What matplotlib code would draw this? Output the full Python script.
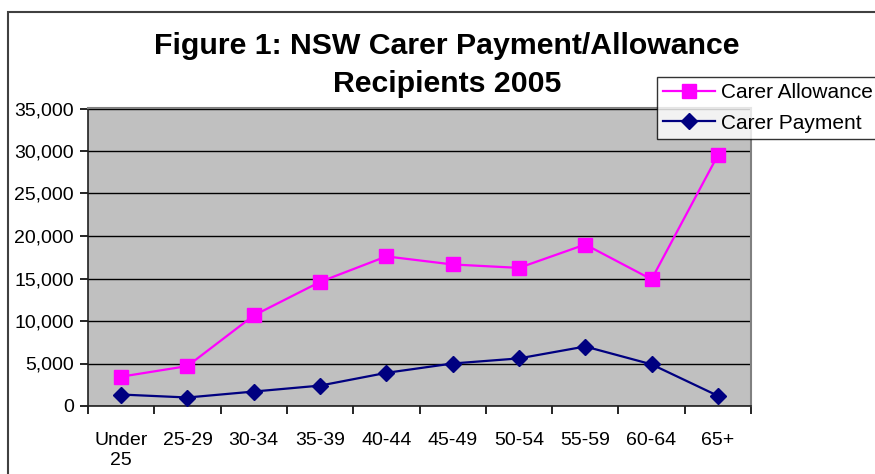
import numpy as np
import matplotlib
matplotlib.use("Agg")
import matplotlib.pyplot as plt
from matplotlib.patches import Rectangle
from matplotlib.ticker import FuncFormatter

plt.rcParams['font.family'] = ['Liberation Sans', 'DejaVu Sans']

# age groups along the x axis
age_groups = ["Under\n25", "25-29", "30-34", "35-39", "40-44",
              "45-49", "50-54", "55-59", "60-64", "65+"]
# recipients
carer_allowance = [3450, 4700, 10650, 14600, 17600, 16650, 16250, 19000, 14900, 29500]
carer_payment = [1350, 1000, 1700, 2400, 3900, 5000, 5600, 7000, 4900, 1200]

fig = plt.figure(figsize=(8.75, 4.74), dpi=100)
ax = fig.add_axes([88/875, 1-406/474, (751-88)/875, (406-108.5)/474])
ax.set_facecolor('#C0C0C0')

x = np.arange(len(age_groups))
ax.plot(x, carer_allowance, color='#FF00FF', lw=1.6, marker='s', ms=10,
        mec='#FF00FF', label='Carer Allowance', zorder=3)
ax.plot(x, carer_payment, color='#000080', lw=1.6, marker='D', ms=8,
        mec='#000080', label='Carer Payment', zorder=3)

ax.set_xlim(-0.5, len(age_groups) - 0.5)
ax.set_ylim(0, 35000)
ax.set_yticks(np.arange(0, 35001, 5000))
ax.yaxis.set_major_formatter(FuncFormatter(lambda v, p: f"{int(v):,}"))
ax.grid(axis='y', color='black', lw=1)
ax.set_axisbelow(True)

# ticks between categories, labels at centres
ax.set_xticks(np.arange(-0.5, len(age_groups), 1))
ax.set_xticklabels([])
ax.set_xticks(x, minor=True)
ax.set_xticklabels(age_groups, minor=True)
ax.tick_params(axis='x', which='minor', length=0, pad=19, labelsize=14)
ax.tick_params(axis='x', which='major', length=6, width=1.2, direction='out')
ax.tick_params(axis='y', length=6, width=1.2, direction='out', pad=4, labelsize=14)

for s in ['top', 'right']:
    ax.spines[s].set_color('#808080')
    ax.spines[s].set_linewidth(1.5)
for s in ['left', 'bottom']:
    ax.spines[s].set_color('#202020')
    ax.spines[s].set_linewidth(1.2)

fig.text(447/875, 1-65/474, "Figure 1: NSW Carer Payment/Allowance\nRecipients 2005",
         ha='center', va='center', fontsize=21.8, fontweight='bold', linespacing=1.45)

leg = fig.legend(loc='upper left', bbox_to_anchor=(657/875, 1-77/474),
                 fontsize=15, frameon=True, fancybox=False, edgecolor='black',
                 handlelength=2.5, borderpad=0.3, labelspacing=0.55,
                 handletextpad=0.25, borderaxespad=0)
leg.get_frame().set_linewidth(1.0)

# outer chart border
fig.patches.append(Rectangle((8/875, -0.1), 1.2, 1.1 - 12/474,
                             transform=fig.transFigure, fill=False,
                             edgecolor='#404040', lw=1.5))

fig.savefig('out.png', dpi=100)
